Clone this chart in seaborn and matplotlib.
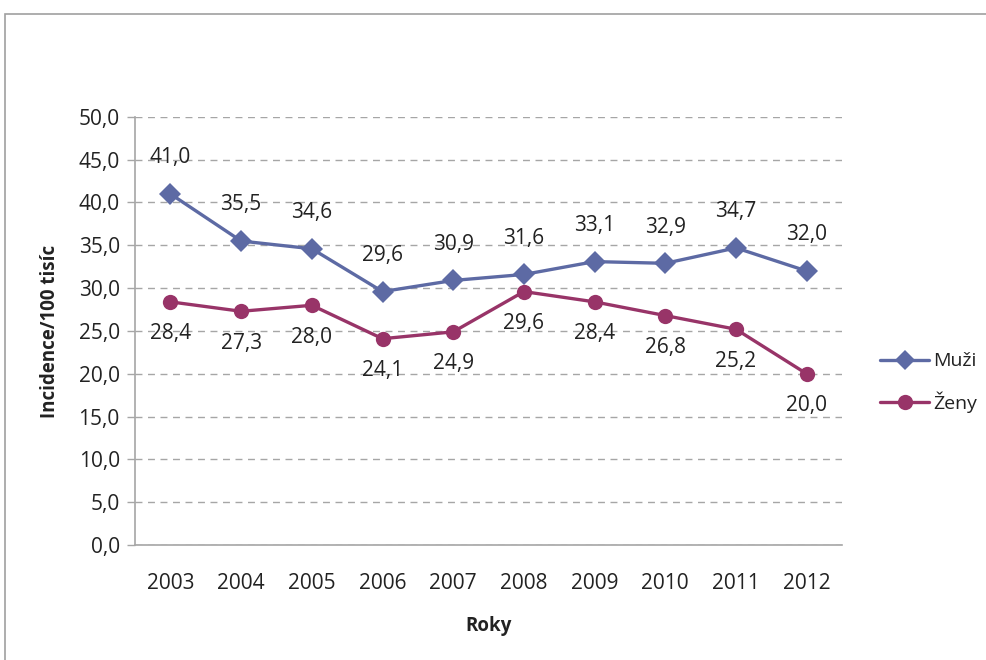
import matplotlib
matplotlib.use("Agg")
import matplotlib.pyplot as plt
import matplotlib.patches as mpatches
from matplotlib.ticker import FixedLocator, FuncFormatter
import numpy as np
import pandas as pd
import seaborn as sns

years = ["2003", "2004", "2005", "2006", "2007", "2008", "2009", "2010", "2011", "2012"]
muzi = [41.0, 35.5, 34.6, 29.6, 30.9, 31.6, 33.1, 32.9, 34.7, 32.0]
zeny = [28.4, 27.3, 28.0, 24.1, 24.9, 29.6, 28.4, 26.8, 25.2, 20.0]
series = ["Muži", "Ženy"]

df = pd.DataFrame({
    "rok": years * 2,
    "hodnota": muzi + zeny,
    "pohlavi": [series[0]] * len(years) + [series[1]] * len(years),
})

sns.set_style("white")
plt.rcParams["font.family"] = ["Open Sans", "DejaVu Sans"]

colors = {"Muži": "#5D6AA4", "Ženy": "#983468"}
grey = "#A6A6A6"
txt = "#222222"
fs = 15

fig = plt.figure(figsize=(9.86, 6.6), dpi=100)
ax = fig.add_axes([0.137, 0.174, 0.717, 0.649])

sns.lineplot(data=df, x="rok", y="hodnota", hue="pohlavi", style="pohlavi",
             palette=colors, markers={"Muži": "D", "Ženy": "o"}, dashes=False,
             markersize=11, linewidth=2.4, markeredgewidth=0, ax=ax, legend=False)

def fmt(v):
    return f"{v:.1f}".replace(".", ",")

for i, v in enumerate(muzi):
    ax.annotate(fmt(v), (i, v), xytext=(0, 26), textcoords="offset points",
                ha="center", va="center", fontsize=fs, color=txt)
for i, v in enumerate(zeny):
    ax.annotate(fmt(v), (i, v), xytext=(0, -23), textcoords="offset points",
                ha="center", va="center", fontsize=fs, color=txt)

ax.set_ylim(0, 50)
ax.set_xlim(-0.5, len(years) - 0.5)
ax.yaxis.set_major_locator(FixedLocator(np.arange(0, 50.1, 5)))
ax.yaxis.set_major_formatter(FuncFormatter(lambda v, p: fmt(v)))
ax.grid(axis="y", color=grey, linestyle=(0, (5, 4)), linewidth=1)
ax.xaxis.set_minor_locator(FixedLocator(np.arange(-0.5, len(years), 1.0)))
ax.tick_params(axis="x", which="major", length=0, pad=20, labelsize=fs, colors=txt)
ax.tick_params(axis="x", which="minor", length=6, color=grey, width=1, direction="out")
ax.tick_params(axis="y", which="major", length=6, color=grey, width=1, direction="out",
               left=True, labelsize=fs, colors=txt, pad=5)

for s in ["top", "right"]:
    ax.spines[s].set_visible(False)
for s in ["left", "bottom"]:
    ax.spines[s].set_color(grey)
    ax.spines[s].set_linewidth(1.2)

ax.set_xlabel("Roky", fontsize=13.5, fontweight="bold", color=txt, labelpad=16)
ax.set_ylabel("Incidence/100 tisíc", fontsize=13.5, fontweight="bold", color=txt, labelpad=13)

handles = [
    plt.Line2D([], [], color=colors["Muži"], marker="D", markersize=10, linewidth=2.4, markeredgewidth=0),
    plt.Line2D([], [], color=colors["Ženy"], marker="o", markersize=11, linewidth=2.4, markeredgewidth=0),
]
fig.legend(handles, series, loc="center left", bbox_to_anchor=(0.893, 0.42),
           frameon=False, fontsize=14, handlelength=2.5, labelspacing=1.1,
           handletextpad=0.2, labelcolor=txt, borderaxespad=0, borderpad=0)

border = mpatches.Rectangle((5 / 986, -0.1), 1.2, 1 - 14 / 660 + 0.1, transform=fig.transFigure,
                            fill=False, edgecolor="#A0A0A0", linewidth=1.2, clip_on=False)
fig.patches.append(border)

fig.savefig("out.png", dpi=100)
